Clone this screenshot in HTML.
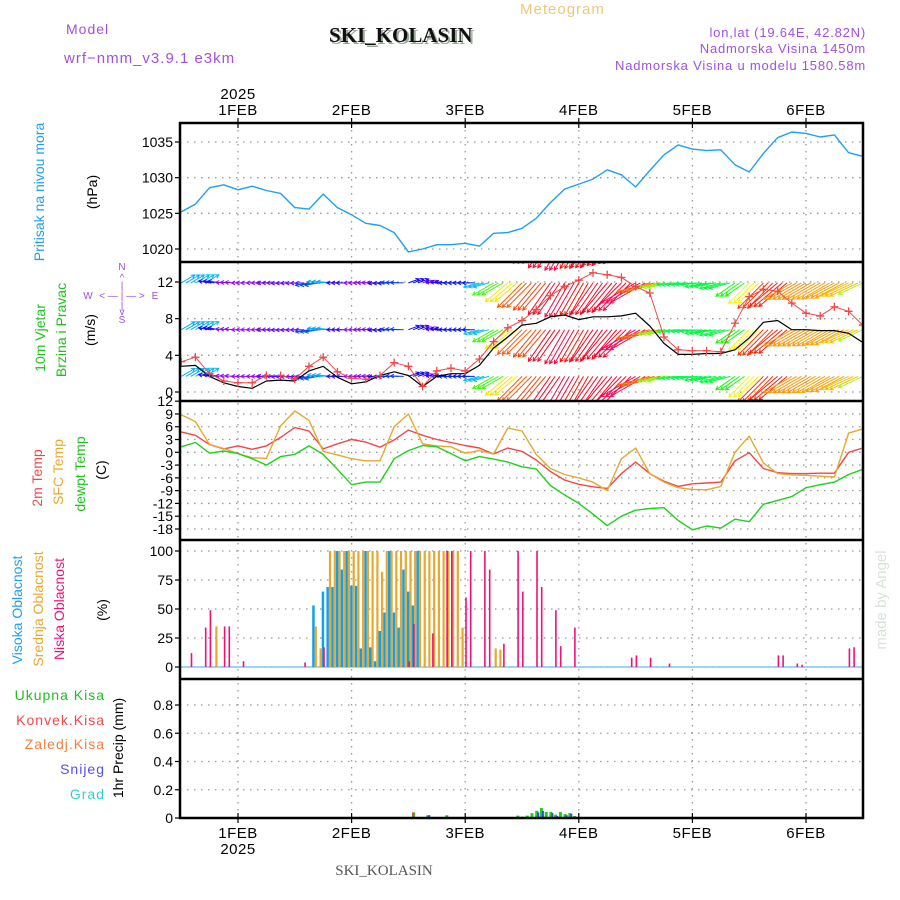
<!DOCTYPE html>
<html><head><meta charset="utf-8">
<style>
html,body{margin:0;padding:0;background:#fff;}
svg{display:block;font-family:"Liberation Sans",sans-serif;}
.tk{font-size:14px;fill:#000;}
.dt{font-size:15px;fill:#000;letter-spacing:0.5px;}
</style></head>
<body>
<svg id="chart" width="900" height="900" viewBox="0 0 900 900">
  <g>
    <text x="520" y="14" font-size="15" fill="#f0c77a" letter-spacing="1">Meteogram</text>
    <text x="66" y="34" font-size="14" fill="#a050e0" letter-spacing="1">Model</text>
    <text x="64" y="63" font-size="15" fill="#a050e0" letter-spacing="1">wrf−nmm_v3.9.1 e3km</text>
    <text x="331" y="44" font-size="21" font-weight="bold" font-family="Liberation Serif, serif" fill="#9a9">SKI_KOLASIN</text>
    <text x="329" y="42" font-size="21" font-weight="bold" font-family="Liberation Serif, serif" fill="#111">SKI_KOLASIN</text>
    <text x="866" y="37" font-size="13" fill="#a050e0" text-anchor="end" letter-spacing="0.8">lon,lat (19.64E, 42.82N)</text>
    <text x="866" y="53" font-size="13" fill="#a050e0" text-anchor="end" letter-spacing="0.8">Nadmorska Visina 1450m</text>
    <text x="866" y="70" font-size="13" fill="#a050e0" text-anchor="end" letter-spacing="0.8">Nadmorska Visina u modelu 1580.58m</text>
  </g>
  <g font-size="14">
    <text transform="translate(44,192) rotate(-90)" text-anchor="middle" fill="#1ea0f0">Pritisak na nivou mora</text>
    <text transform="translate(97,192) rotate(-90)" text-anchor="middle" fill="#000">(hPa)</text>
    <text transform="translate(45,338) rotate(-90)" text-anchor="middle" fill="#20c020">10m Vjetar</text>
    <text transform="translate(66,330) rotate(-90)" text-anchor="middle" fill="#20c020">Brzina i Pravac</text>
    <text transform="translate(95,330) rotate(-90)" text-anchor="middle" fill="#000">(m/s)</text>
    <g fill="#a050e0" font-size="10" text-anchor="middle">
      <text x="122" y="270">N</text><text x="122" y="281">^</text><text x="122" y="289">|</text>
      <text x="122" y="299">&lt; — | — &gt;</text>
      <text x="88" y="299">W</text><text x="155" y="299">E</text>
      <text x="122" y="309">|</text><text x="122" y="315">v</text><text x="122" y="323">S</text>
    </g>
    <text transform="translate(42,478) rotate(-90)" text-anchor="middle" fill="#f04848">2m Temp</text>
    <text transform="translate(63,472) rotate(-90)" text-anchor="middle" fill="#e8a830">SFC Temp</text>
    <text transform="translate(85,474) rotate(-90)" text-anchor="middle" fill="#20c020">dewpt Temp</text>
    <text transform="translate(106,470) rotate(-90)" text-anchor="middle" fill="#000">(C)</text>
    <text transform="translate(22,610) rotate(-90)" text-anchor="middle" fill="#1ea0f0">Visoka Oblacnost</text>
    <text transform="translate(43,609) rotate(-90)" text-anchor="middle" fill="#e8a830">Srednja Oblacnost</text>
    <text transform="translate(64,609) rotate(-90)" text-anchor="middle" fill="#f0107a">Niska Oblacnost</text>
    <text transform="translate(107,610) rotate(-90)" text-anchor="middle" fill="#000">(%)</text>
    <g text-anchor="end" letter-spacing="1">
      <text x="105" y="700" fill="#20c020">Ukupna  Kisa</text>
      <text x="105" y="725" fill="#f04848">Konvek.Kisa</text>
      <text x="105" y="749" fill="#f08040">Zaledj.Kisa</text>
      <text x="105" y="774" fill="#5050f0">Snijeg</text>
      <text x="105" y="799" fill="#30d0d0">Grad</text>
    </g>
    <text transform="translate(123,748) rotate(-90)" text-anchor="middle" fill="#000">1hr Precip (mm)</text>
  </g>
  <text transform="translate(886,600) rotate(-90)" text-anchor="middle" font-size="15" fill="#d8e4d8">made by Angel</text>
  <text x="384" y="875" font-size="15" text-anchor="middle" font-family="Liberation Serif, serif" fill="#555">SKI_KOLASIN</text>
  <defs>
    <clipPath id="cpP"><rect x="180" y="123" width="683" height="139"/></clipPath>
    <clipPath id="cpW"><rect x="180" y="263" width="683" height="138"/></clipPath>
    <clipPath id="cpT"><rect x="180" y="402" width="683" height="138"/></clipPath>
  </defs>
  <g id="grid"></g>
  <g id="marks"></g>
  <g id="axes"></g>
</svg>
<script>
// time axis: hours since 1FEB 00UTC, 3-hourly
const hours = [-12,-9,-6,-3,0,3,6,9,12,15,18,21,24,27,30,33,36,39,42,45,48,51,54,57,60,63,66,69,72,75,78,81,84,87,90,93,96,99,102,105,108,111,114,117,120,123,126,129,132];
const dayLabels = ['1FEB','2FEB','3FEB','4FEB','5FEB','6FEB'];
const dayHours = [0,24,48,72,96,120];
const pressure = [1025.2,1026.3,1028.6,1029.0,1028.3,1028.8,1028.2,1027.8,1025.8,1025.6,1027.7,1025.8,1024.8,1023.6,1023.3,1022.3,1019.6,1020.0,1020.6,1020.6,1020.8,1020.4,1022.2,1022.3,1022.9,1024.3,1026.5,1028.4,1029.1,1029.8,1031.1,1030.4,1028.7,1031.0,1033.2,1034.6,1034.0,1033.8,1033.9,1031.8,1030.8,1033.4,1035.6,1036.4,1036.2,1035.7,1036.0,1033.5,1033.0];
const windSpeed = [2.8,2.9,1.7,1.0,0.6,0.4,1.2,1.3,1.2,2.3,2.8,1.6,0.9,1.1,1.8,2.2,1.8,0.6,1.7,2.0,2.0,2.9,4.8,6.0,7.3,7.5,8.2,8.4,7.9,8.2,8.2,8.3,8.6,7.2,5.3,4.1,4.1,4.2,4.2,4.6,5.9,7.6,7.8,6.8,6.8,6.7,6.7,6.4,5.4];
const windGust = [3.3,3.8,2.0,1.2,1.0,1.0,1.8,1.8,1.4,2.8,3.8,2.2,1.5,1.4,1.8,3.2,2.8,0.6,2.3,2.6,2.3,3.6,5.5,7.0,7.8,9.0,10.5,11.5,12.2,13.0,12.8,12.5,11.5,10.8,6.0,4.6,4.5,4.5,4.4,7.5,10.4,11.2,11.0,9.7,8.6,8.3,9.3,8.8,7.3];
const windDir = [240,240,100,95,90,90,90,88,88,80,95,90,90,92,88,92,250,250,95,90,90,75,60,50,45,40,35,30,30,35,40,45,60,75,80,85,85,80,75,55,45,45,50,60,60,60,62,65,65];
const temp2m = [4.8,4.0,1.8,0.8,1.5,0.7,1.5,3.5,5.8,5.0,0.8,2.0,3.0,2.4,1.2,2.9,5.2,4.0,3.0,2.3,1.6,1.0,-0.4,1.0,0.2,-1.8,-4.5,-6.5,-7.5,-8.1,-8.5,-5.0,-2.3,-5.0,-6.8,-8.0,-7.4,-7.2,-7.0,-2.0,-0.1,-3.8,-4.8,-5.0,-5.0,-4.9,-4.9,0.0,1.0];
const tempSfc = [8.8,7.2,1.8,0.9,-0.3,-1.3,-1.4,6.2,9.7,7.5,0.2,-0.6,-1.5,-2.0,-2.0,6.0,9.0,2.0,1.5,1.3,-0.2,0.4,-0.4,5.7,5.0,-0.5,-3.8,-5.2,-6.0,-7.0,-9.0,-1.5,1.0,-5.0,-7.0,-8.3,-8.7,-8.8,-8.0,0.0,3.8,-2.5,-5.0,-5.3,-5.4,-5.6,-5.8,4.5,5.5];
const tempDew = [1.3,2.3,-0.2,0.3,-0.3,-1.5,-3.0,-1.0,-0.5,1.5,-0.5,-4.0,-7.6,-7.0,-7.0,-1.5,0.4,1.6,1.3,-0.3,-2.0,-1.0,-1.6,-2.3,-3.4,-3.9,-7.8,-10.0,-12.0,-14.5,-17.2,-15.0,-13.6,-13.2,-13.0,-16.0,-18.2,-17.3,-17.8,-15.7,-16.3,-12.2,-11.3,-10.4,-8.3,-7.6,-7.0,-5.2,-4.0];
const highCloudHours = [16,18,19,20,21,22,23,24,25,26,27,28,29,30,31,32,33,34,35,36,37,38];
const highCloud = [53,65,69,69,100,84,100,70,70,16,100,17,5,31,47,100,47,34,84,65,53,100];
const midCloudHours = [-5,16,17,19,20,21,22,23,24,25,26,27,28,29,30,31,32,33,34,35,36,37,38,39,40,41,42,43,44,45,46,47,54,55];
const midCloud = [35,35,16,100,100,100,100,100,100,100,100,100,100,100,82,100,100,100,100,100,100,100,100,100,100,100,100,100,100,100,100,34,16,15];
const lowCloudHours = [-10,-7,-6,-3,-2,1,14,18,36,37,41,44,45,48,49,52,53,56,59,60,63,64,67,68,71,83,84,87,91,114,115,118,119,129,130];
const lowCloud = [12,34,49,35,35,5,4,17,5,37,29,100,100,60,100,100,84,20,100,65,100,69,49,18,34,8,10,8,3,10,10,3,2,16,17];
const precipHours = [37,40,44,59,60,61,62,63,64,65,66,67,68,69,70,71];
const precipTotal = [0.04,0.02,0.02,0.017,0.01,0.017,0.035,0.052,0.071,0.043,0.043,0.024,0.043,0.028,0.035,0.014];
const precipConv = [0.04,0,0,0,0,0,0,0,0,0,0,0,0,0,0,0];
const precipSnow = [0,0.02,0,0,0,0,0,0.04,0.05,0,0.035,0.015,0,0.02,0.03,0];
const pTicks = [1020,1025,1030,1035];
const wTicks = [0,4,8,12];
const tTicks = [12,9,6,3,0,-3,-6,-9,-12,-15,-18];
const cTicks = [0,25,50,75,100];
const rTicks = [0,0.2,0.4,0.6,0.8];

const NS='http://www.w3.org/2000/svg';
const L=180,R=863;
const xh=h=>238+h*113.6/24;
const yP=v=>249-(v-1020)*(107/15);
const yW=v=>392-v*(110/12);
const yT=v=>452.3-v*4.26;
const yC=v=>667-v*1.16;
const yR=v=>818-v*141.25;
function el(tag,attrs,parent){const e=document.createElementNS(NS,tag);for(const k in attrs)e.setAttribute(k,attrs[k]);parent.appendChild(e);return e;}
const grid=document.getElementById('grid'),marks=document.getElementById('marks'),axes=document.getElementById('axes');

// grid
const dot={stroke:'#999','stroke-width':1.3,'stroke-dasharray':'1.5,5.5'};
function hgrid(vals,f){vals.forEach(v=>{const g=el('line',Object.assign({x1:L,x2:R,y1:f(v),y2:f(v)},dot),grid);

});}
hgrid(pTicks,yP);hgrid(wTicks,yW);hgrid(tTicks,yT);hgrid(cTicks,yC);hgrid(rTicks,yR);
dayHours.forEach(h=>{const g=el('line',Object.assign({x1:xh(h),x2:xh(h),y1:123,y2:818},dot),grid);

});

function line(xs,vs,f,color,name,clip,w){
  const d=vs.map((v,i)=>(i?'L':'M')+xh(xs[i]).toFixed(1)+','+f(v).toFixed(1)).join('');
  const p=el('path',{d:d,fill:'none',stroke:color,'stroke-width':w||1.4,'stroke-linejoin':'round','clip-path':clip},marks);
  
  
}
// pressure
line(hours,pressure,yP,'#1ea0f0','pressure-line','url(#cpP)');

// wind barbs
function hueFor(s){const st=[[1,275],[2,235],[3,190],[4.5,120],[6,55],[7,30],[8,0],[9,-35]];
 if(s<=st[0][0])return st[0][1];for(let i=1;i<st.length;i++){if(s<=st[i][0]){const a=st[i-1],b=st[i];return a[1]+(b[1]-a[1])*(s-a[0])/(b[0]-a[0]);}}return -35;}
const wg=el('g',{'clip-path':'url(#cpW)'},marks);


const rows=[17,11.9,6.8,1.7];
hours.forEach((h,i)=>{
  const s=windSpeed[i],dir=windDir[i];
  const th=(dir+180)*Math.PI/180;
  const len=s*4.2+4;
  const dx=Math.sin(th)*len, dy=-Math.cos(th)*len;
  const col='hsl('+((hueFor(s)+360)%360).toFixed(0)+',95%,50%)';
  for(let k=0;k<3;k++){
    const x0=xh(h+k);
    if(x0<L||x0>R)continue;
    rows.forEach(rv=>{
      const y0=yW(rv),x1=x0+dx,y1=y0+dy;
      const ang=Math.atan2(dy,dx);
      const hl=4;
      const d='M'+x0.toFixed(1)+','+y0.toFixed(1)+'L'+x1.toFixed(1)+','+y1.toFixed(1)+
        'M'+(x1-hl*Math.cos(ang-0.5)).toFixed(1)+','+(y1-hl*Math.sin(ang-0.5)).toFixed(1)+'L'+x1.toFixed(1)+','+y1.toFixed(1)+
        'L'+(x1-hl*Math.cos(ang+0.5)).toFixed(1)+','+(y1-hl*Math.sin(ang+0.5)).toFixed(1);
      const b=el('path',{d:d,stroke:col,'stroke-width':1,fill:'none'},wg);
      
      
    });
  }
});
line(hours,windSpeed,yW,'#000','wind-speed-line','url(#cpW)',1.2);
line(hours,windGust,yW,'#f04848','wind-gust-line','url(#cpW)',1);
hours.forEach((h,i)=>{const x=xh(h),y=yW(windGust[i]);
 const c=el('path',{d:'M'+(x-4)+','+y+'h8M'+x+','+(y-4)+'v8',stroke:'#f04848','stroke-width':1.3,'clip-path':'url(#cpW)'},marks);
 
 });

// temperatures
line(hours,temp2m,yT,'#f04848','temp-2m-line','url(#cpT)');
line(hours,tempSfc,yT,'#e8a830','temp-sfc-line','url(#cpT)');
line(hours,tempDew,yT,'#20d020','dewpoint-line','url(#cpT)');

// clouds
const base=el('line',{x1:L,x2:R,y1:yC(0),y2:yC(0),stroke:'#7ac8f0','stroke-width':1.5},marks);


function bars(hs,vs,f,color,off,w,name){hs.forEach((h,i)=>{const y=f(vs[i]);const b0=f(0);
 const r=el('rect',{x:(xh(h)+off).toFixed(1),y:y.toFixed(1),width:w,height:Math.max(0,b0-y).toFixed(1),fill:color},marks);
 
 });}
bars(highCloudHours,highCloud,yC,'#10a0f0',-1.5,2.5,'high-cloud-bar');
bars(midCloudHours,midCloud,yC,'#e8a830',1,2.2,'mid-cloud-bar');
bars(lowCloudHours,lowCloud,yC,'#f0107a',0,1.6,'low-cloud-bar');

// precip
bars(precipHours,precipTotal,yR,'#20d020',-1,3,'precip-total-bar');
bars(precipHours,precipConv,yR,'#f04848',-1,2,'precip-convective-bar');
bars(precipHours,precipSnow,yR,'#4040f0',1,2,'precip-snow-bar');

// axes / frames
[123,262,401,540,679,818].forEach(y=>{const f=el('line',{x1:L-1,x2:R+1,y1:y,y2:y,stroke:'#000','stroke-width':2.5},axes);
 
 });
el('line',{x1:L,x2:L,y1:122,y2:819,stroke:'#000','stroke-width':2.5},axes);
el('line',{x1:R,x2:R,y1:122,y2:819,stroke:'#000','stroke-width':2.5},axes);
function yt(vals,f,fmt,name){vals.forEach(v=>{const y=f(v);
 el('line',{x1:L-5,x2:L,y1:y,y2:y,stroke:'#000','stroke-width':1.2},axes);
 const t=el('text',{x:L-7,y:y+5,'text-anchor':'end',class:'tk'},axes);t.textContent=fmt(v);
 
 });}
yt(pTicks,yP,v=>v,'pressure-tick-label');
yt(wTicks,yW,v=>v,'wind-tick-label');
yt(tTicks,yT,v=>v,'temp-tick-label');
yt(cTicks,yC,v=>v,'cloud-tick-label');
yt(rTicks,yR,v=>v===0?'0':v.toFixed(1),'precip-tick-label');
dayHours.forEach((h,i)=>{const x=xh(h);
 [123,818].forEach(y=>el('line',{x1:x,x2:x,y1:y-5,y2:y+5,stroke:'#000','stroke-width':1.2},axes));
 const t=el('text',{x:x,y:115,'text-anchor':'middle',class:'dt'},axes);t.textContent=dayLabels[i];
 
 
 const b=el('text',{x:x,y:838,'text-anchor':'middle',class:'dt'},axes);b.textContent=dayLabels[i];
 
 });
const y1=el('text',{x:xh(0),y:99,'text-anchor':'middle',class:'dt'},axes);y1.textContent='2025';


const y2=el('text',{x:xh(0),y:854,'text-anchor':'middle',class:'dt'},axes);y2.textContent='2025';


</script>
</body></html>
